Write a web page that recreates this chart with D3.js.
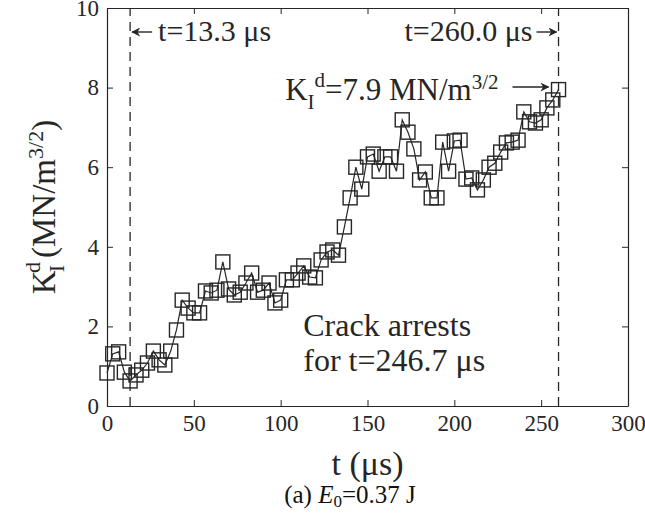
<!DOCTYPE html>
<html>
<head>
<meta charset="utf-8">
<script src="https://cdn.jsdelivr.net/npm/d3@7"></script>
<style>
  body { margin: 0; background: #fff; }
  svg { font-family: "Liberation Serif", "Times New Roman", serif; }
</style>
</head>
<body>
<svg id="chart" width="645" height="526"></svg>
<script>
// time samples (us)
var times = [0, 3.3, 6.7, 10, 13.3, 16.7, 20, 23.3, 26.7, 30, 33.3, 36.7, 40, 43.3, 46.7, 50,
  53.3, 56.7, 60, 63.3, 66.7, 70, 73.3, 76.7, 80, 83.3, 86.7, 90, 93.3, 96.7, 100,
  103.3, 106.7, 110, 113.3, 116.7, 120, 123.3, 126.7, 130, 133.3, 136.7, 140, 143.3, 146.7, 150,
  153.3, 156.7, 160, 163.3, 166.7, 170, 173.3, 176.7, 180, 183.3, 186.7, 190, 193.3, 196.7, 200,
  203.3, 206.7, 210, 213.3, 216.7, 220, 223.3, 226.7, 230, 233.3, 236.7, 240, 243.3, 246.7, 250,
  253.3, 256.7, 260];
// dynamic SIF values (MN/m^3/2)
var kValues = [0.83, 1.31, 1.36, 0.85, 0.63, 0.78, 0.90, 1.08, 1.38, 1.16, 1.03, 1.38, 1.91, 2.66, 2.46, 2.34,
  2.34, 2.89, 2.84, 2.91, 3.62, 2.94, 2.79, 2.86, 3.09, 3.34, 2.86, 2.91, 3.09, 2.59, 2.66,
  3.17, 3.17, 3.34, 3.52, 3.24, 3.22, 3.67, 3.87, 3.92, 3.79, 4.50, 5.23, 6.00, 5.45, 6.26,
  6.33, 5.90, 6.26, 6.26, 5.90, 7.19, 6.88, 6.46, 5.68, 5.88, 5.23, 5.23, 6.63, 5.90, 6.66,
  6.68, 5.70, 5.73, 5.43, 5.68, 6.00, 6.10, 6.38, 6.61, 6.63, 6.68, 7.39, 7.14, 7.11, 7.19,
  7.49, 7.69, 7.95];
var xTicks = [0, 50, 100, 150, 200, 250, 300];
var yTicks = [0, 2, 4, 6, 8, 10];
var markLines = [13.3, 260];

var margin = {top: 8, right: 17, bottom: 120, left: 107},
    width = 645 - margin.left - margin.right,
    height = 526 - margin.top - margin.bottom;
var ink = "#262626";

var svg = d3.select("#chart");
var g = svg.append("g").attr("transform", "translate(" + margin.left + "," + margin.top + ")");

var x = d3.scaleLinear().domain([0, 300]).range([0, width]);
var y = d3.scaleLinear().domain([0, 10]).range([height, 0]);

var data = times.map(function(t, i) { return {t: t, k: kValues[i]}; });

// axes with inward ticks on all four sides (box on)
function styleAxis(sel, showText) {
  sel.attr("font-family", null).attr("font-size", null);
  sel.select(".domain").attr("stroke", ink).attr("stroke-width", 1.2);
  sel.selectAll(".tick line").attr("stroke", ink).attr("stroke-width", 1);
  sel.selectAll(".tick text").attr("fill", ink).style("font-size", "23px")
    .style("display", showText ? null : "none");
}
g.append("g").attr("transform", "translate(0," + height + ")")
  .call(d3.axisBottom(x).tickValues(xTicks).tickSizeInner(-6).tickSizeOuter(0).tickPadding(9))
  .call(styleAxis, true);
g.append("g")
  .call(d3.axisTop(x).tickValues(xTicks).tickSizeInner(-6).tickSizeOuter(0))
  .call(styleAxis, false);
g.append("g")
  .call(d3.axisLeft(y).tickValues(yTicks).tickSizeInner(-6).tickSizeOuter(0).tickPadding(8))
  .call(styleAxis, true);
g.append("g").attr("transform", "translate(" + width + ",0)")
  .call(d3.axisRight(y).tickValues(yTicks).tickSizeInner(-6).tickSizeOuter(0))
  .call(styleAxis, false);

// dashed lines at crack initiation / arrest times
g.selectAll(".vline").data(markLines).enter().append("line")
  .attr("class", "vline")
  .attr("x1", function(d) { return x(d); }).attr("x2", function(d) { return x(d); })
  .attr("y1", y(0)).attr("y2", y(10))
  .attr("stroke", ink).attr("stroke-width", 1.3)
  .attr("stroke-dasharray", "9,6");

// data line + square markers
var line = d3.line().x(function(d) { return x(d.t); }).y(function(d) { return y(d.k); });
g.append("path").datum(data).attr("d", line)
  .attr("fill", "none").attr("stroke", ink).attr("stroke-width", 1.2);
var ms = 14;
g.selectAll(".mk").data(data).enter().append("rect")
  .attr("class", "mk")
  .attr("x", function(d) { return x(d.t) - ms / 2; })
  .attr("y", function(d) { return y(d.k) - ms / 2; })
  .attr("width", ms).attr("height", ms)
  .attr("fill", "none").attr("stroke", ink).attr("stroke-width", 1.4);

// arrows
svg.append("defs").append("marker")
  .attr("id", "ah").attr("viewBox", "0 0 10 10").attr("refX", 9).attr("refY", 5)
  .attr("markerWidth", 9).attr("markerHeight", 9).attr("markerUnits", "userSpaceOnUse")
  .attr("orient", "auto")
  .append("path").attr("d", "M0,0 L10,5 L0,10 L3,5 Z").attr("fill", ink);
function arrow(x1, x2, yy) {
  g.append("line").attr("x1", x1).attr("x2", x2).attr("y1", yy).attr("y2", yy)
    .attr("stroke", ink).attr("stroke-width", 1.4).attr("marker-end", "url(#ah)");
}

var fs = 30;
// t=13.3 annotation
arrow(x(13.3) + 22, x(13.3) + 2, 24);
g.append("text").attr("x", x(13.3) + 28).attr("y", 33).attr("fill", ink)
  .style("font-size", fs + "px").text("t=13.3 \u03bcs");
// t=260 annotation
arrow(x(260) - 22, x(260) - 2, 24);
g.append("text").attr("x", x(260) - 26).attr("y", 33).attr("text-anchor", "end").attr("fill", ink)
  .style("font-size", fs + "px").text("t=260.0 \u03bcs");
// K annotation
var kt = g.append("text").attr("x", x(260) - 60).attr("y", 92).attr("text-anchor", "end")
  .attr("fill", ink).style("font-size", "31px");
kt.append("tspan").text("K");
kt.append("tspan").attr("dy", 9).style("font-size", "21px").text("I");
kt.append("tspan").attr("dy", -22).style("font-size", "21px").text("d");
kt.append("tspan").attr("dy", 13).text("=7.9 MN/m");
kt.append("tspan").attr("dy", -11).style("font-size", "21px").text("3/2");
arrow(x(260) - 46, x(260) - 10, 79);

// crack arrest text
g.append("text").attr("x", x(113)).attr("y", y(1.75)).attr("fill", ink)
  .style("font-size", "32px").text("Crack arrests");
g.append("text").attr("x", x(113)).attr("y", y(0.87)).attr("fill", ink)
  .style("font-size", "32px").text("for t=246.7 \u03bcs");

// axis labels
svg.append("text").attr("x", margin.left + width / 2).attr("y", 475).attr("text-anchor", "middle")
  .attr("fill", ink).style("font-size", "34px").text("t (\u03bcs)");
var yl = svg.append("text").attr("transform", "translate(55," + (margin.top + height / 2) + ") rotate(-90)")
  .attr("text-anchor", "middle").attr("fill", ink).style("font-size", "33px");
yl.append("tspan").text("K");
yl.append("tspan").attr("dy", 9).attr("dx", -2).style("font-size", "22px").text("I");
yl.append("tspan").attr("dy", -24).attr("dx", -8).style("font-size", "22px").text("d");
yl.append("tspan").attr("dy", 15).attr("dx", 4).text("(MN/m");
yl.append("tspan").attr("dy", -12).style("font-size", "22px").text("3/2");
yl.append("tspan").attr("dy", 12).text(")");

// caption
var cap = svg.append("text").attr("x", 350).attr("y", 503).attr("text-anchor", "middle")
  .attr("fill", "#111").style("font-size", "25px");
cap.append("tspan").text("(a) ");
cap.append("tspan").style("font-style", "italic").text("E");
cap.append("tspan").attr("dy", 4).style("font-size", "17px").text("0");
cap.append("tspan").attr("dy", -4).text("=0.37 J");
</script>
</body>
</html>
